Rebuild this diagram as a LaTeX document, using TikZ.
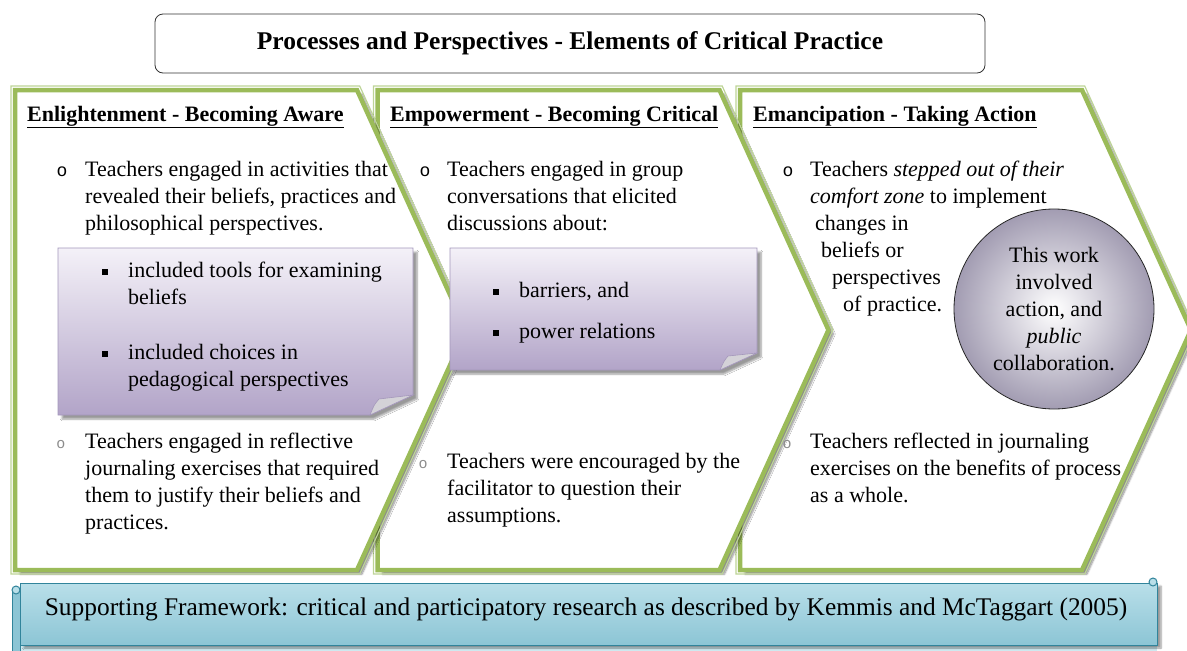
\documentclass[tikz,border=0pt]{standalone}
\usepackage{fontspec}
\setmainfont{Liberation Serif}
\newfontfamily\bulletfont{Liberation Mono}
\usetikzlibrary{shadows.blur}

\definecolor{chevgreen}{HTML}{9BBB59}
\definecolor{chevlight}{HTML}{BDD497}
\definecolor{notetop}{HTML}{F4F1F8}
\definecolor{notebot}{HTML}{B2A4C8}
\definecolor{noteline}{HTML}{A497BB}
\definecolor{foldgrey}{HTML}{D4D2D8}
\definecolor{discout}{HTML}{A29CB2}
\definecolor{scrolltop}{HTML}{B9DFE9}
\definecolor{scrollbot}{HTML}{8CC5D5}
\definecolor{scrollline}{HTML}{31849B}

\newcommand{\bodysize}{\fontsize{22}{27}\selectfont}
\newcommand{\sqbullet}{\raisebox{2.5pt}{\rule{6pt}{6pt}}}

\tikzset{
  chevron/.style={fill=white, draw=chevgreen, line width=4.5pt, line join=miter,
    blur shadow={shadow xshift=5pt, shadow yshift=-4pt, shadow blur steps=8, shadow opacity=45}},
  rim/.style={draw=chevlight, line width=1.2pt, line join=miter},
  note/.style={top color=notetop, bottom color=notebot, draw=noteline, line width=0.8pt,
    blur shadow={shadow xshift=4pt, shadow yshift=-4pt, shadow blur steps=6, shadow opacity=40}},
  % multi-line nodes sit on the baseline of their last line
  para/.style={anchor=base west, inner sep=0pt, align=left, font=\bodysize},
  heading/.style={anchor=base west, inner sep=0pt, font=\bodysize\bfseries},
  ring/.style={anchor=base, inner sep=0pt, font=\bulletfont\fontsize{18}{18}\selectfont},
  smallring/.style={anchor=base, inner sep=0pt, text=black!45, font=\bulletfont\fontsize{15}{15}\selectfont},
  square/.style={anchor=base, inner sep=0pt}
}

\begin{document}
\begin{tikzpicture}[x=1pt,y=-1pt]
  \useasboundingbox (0,0) rectangle (1187,651);

  % Title box
  \node (title) [draw=black!80, line width=0.8pt, rounded corners=8pt, minimum width=830pt,
    minimum height=59pt, font=\fontsize{25.5}{30}\selectfont\bfseries] at (570,43.5)
    {Processes and Perspectives - Elements of Critical Practice};

  % Chevrons, back to front
  \foreach \s in {725,362.5,0} {
    \begin{scope}[xshift=\s]
      \draw[chevron] (15,90) -- (357,90) -- (466,330) -- (357,570) -- (15,570) -- cycle;
      \draw[rim] (11,86) -- (359.7,86) -- (470.4,330) -- (359.7,574) -- (11,574) -- cycle;
    \end{scope}
  }

  % Folded notes
  \draw[note] (58,248) -- (413,248) -- (413,395) -- (370,415) -- (58,415) -- cycle;
  \filldraw[fill=foldgrey, draw=noteline, line width=0.6pt] (370,415) .. controls (374,405) .. (379,399) -- (413,395) -- cycle;
  \draw[note] (450,248) -- (757,248) -- (757,353) -- (720,370) -- (450,370) -- cycle;
  \filldraw[fill=foldgrey, draw=noteline, line width=0.6pt] (720,370) .. controls (724,361) .. (728,356) -- (757,353) -- cycle;

  % Enlightenment
  \node (awarehead) [heading] at (27,121) {\underline{Enlightenment - Becoming Aware}};
  \node (awaredot1) [ring] at (62,176) {o};
  \node (aware1) [para] at (85,230) {Teachers engaged in activities that\\revealed their beliefs, practices and\\philosophical perspectives.};
  \node (toolsdot) [square] at (105,277) {\sqbullet};
  \node (tools) [para] at (128,304) {included tools for examining\\beliefs};
  \node (choicedot) [square] at (105,359) {\sqbullet};
  \node (choice) [para] at (128,386) {included choices in\\pedagogical perspectives};
  \node (awaredot2) [smallring] at (61,448) {o};
  \node (aware2) [para] at (85,529) {Teachers engaged in reflective\\journaling exercises that required\\them to justify their beliefs and\\practices.};

  % Empowerment
  \node (critichead) [heading] at (390,121) {\underline{Empowerment - Becoming Critical}};
  \node (criticdot1) [ring] at (425,176) {o};
  \node (critic1) [para] at (447,230) {Teachers engaged in group\\conversations that elicited\\discussions about:};
  \node (barrierdot) [square] at (496,297) {\sqbullet};
  \node (barrier) [para] at (519,297) {barriers, and};
  \node (powerdot) [square] at (496,338) {\sqbullet};
  \node (power) [para] at (519,338) {power relations};
  \node (criticdot2) [smallring] at (423,468) {o};
  \node (critic2) [para] at (447,522) {Teachers were encouraged by the\\facilitator to question their\\assumptions.};

  % Emancipation
  \node (disc) [circle, draw=black!85, line width=0.8pt, minimum size=200pt, inner sep=0pt,
    shading=radial, inner color=white, outer color=discout, align=center, font=\bodysize]
    at (1054,309) {This work\\involved\\action, and\\\emph{public}\\collaboration.};
  \node (actionhead) [heading] at (753,121) {\underline{Emancipation - Taking Action}};
  \node (actiondot1) [ring] at (788,176) {o};
  \node (action1) [para] at (810,311) {Teachers \emph{stepped out of their}\\\emph{comfort zone} to implement\\\hspace*{5pt}changes in\\\hspace*{11pt}beliefs or\\\hspace*{22pt}perspectives\\\hspace*{33pt}of practice.};
  \node (actiondot2) [smallring] at (787,448) {o};
  \node (action2) [para] at (810,502) {Teachers reflected in journaling\\exercises on the benefits of process\\as a whole.};

  % Supporting scroll
  \fill[scrolltop!70!white] (20,645) rectangle (1157,651);
  \draw[top color=scrolltop, bottom color=scrollbot, draw=scrollline, line width=1pt,
    blur shadow={shadow xshift=4pt, shadow yshift=-3pt, shadow blur steps=6, shadow opacity=40}]
    (20,583) -- (1157,583) -- (1157,645) -- (20,645) -- cycle;
  \draw[fill=scrollbot, draw=scrollline, line width=1pt] (12,590) -- (12,651) -- (20,651) -- (20,590) -- cycle;
  \draw[fill=scrolltop, draw=scrollline, line width=1pt] (16,590) circle (4);
  \draw[fill=scrolltop, draw=scrollline, line width=1pt] (1153,582) circle (4);
  \node (frame) [anchor=base, inner sep=0pt, font=\fontsize{25.4}{30}\selectfont] at (586,615)
    {Supporting Framework: critical and participatory research as described by Kemmis and McTaggart (2005)};
\end{tikzpicture}
\end{document}
